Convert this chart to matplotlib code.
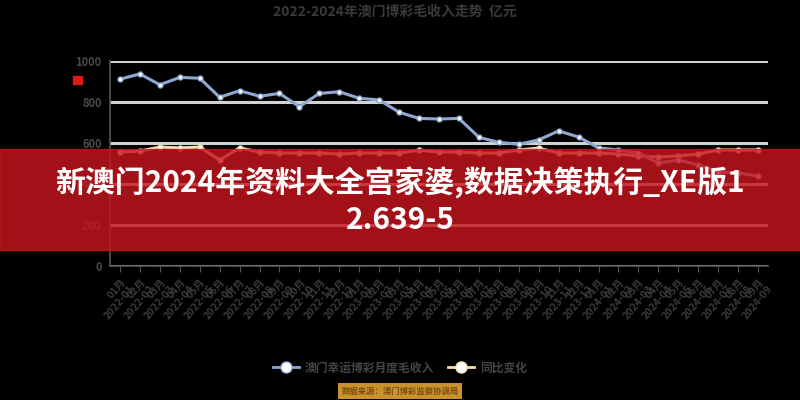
import matplotlib
matplotlib.use("Agg")
import matplotlib.pyplot as plt
from matplotlib.patches import Rectangle
from matplotlib.lines import Line2D

plt.rcParams['font.family'] = ['Noto Sans CJK SC', 'DejaVu Sans']

# data (values on a 0-1000 scale)
periods = [
    "2022-01", "2022-02", "2022-03", "2022-04", "2022-05", "2022-06", "2022-07",
    "2022-08", "2022-09", "2022-10", "2022-11", "2022-12", "2023-01", "2023-02",
    "2023-03", "2023-04", "2023-05", "2023-06", "2023-07", "2023-08", "2023-09",
    "2023-10", "2023-11", "2023-12", "2024-01", "2024-02", "2024-03", "2024-04",
    "2024-05", "2024-06", "2024-07", "2024-08", "2024-09",
]
period_tags = [p[-2:] + "月" for p in periods]
revenue = [911, 937, 884, 920, 916, 823, 855, 828, 842, 777, 842, 850, 818, 810,
           750, 720, 717, 720, 628, 603, 594, 615, 659, 629, 576, 566, 551, 502,
           517, 493, 459, 454, 439]
growth = [556, 561, 580, 576, 580, 517, 576, 556, 551, 551, 551, 546, 551, 551,
          551, 565, 556, 556, 551, 551, 566, 575, 551, 551, 551, 546, 537, 532,
          537, 546, 566, 566, 566]
y_ticks = [0, 200, 400, 600, 800, 1000]

title = "2022-2024年澳门博彩毛收入走势  亿元"
series_names = ["澳门幸运博彩月度毛收入", "同比变化"]
source_note = "数据来源：澳门博彩监察协调局"
banner = "新澳门2024年资料大全宫家婆,数据决策执行_XE版1\n2.639-5"

blue = "#8fa8d2"
cream = "#f2deb0"

fig = plt.figure(figsize=(8, 4), dpi=100, facecolor="black")
ax = fig.add_axes([0.1375, 0.335, 0.8225, 0.5125], facecolor="black")

x = list(range(len(periods)))
ax.plot(x, growth, color=cream, lw=2.2, marker="o", ms=3.5,
        mfc="white", mec=cream, zorder=3)
ax.plot(x, revenue, color=blue, lw=2.2, marker="o", ms=3.5,
        mfc="white", mec=blue, zorder=4)

ax.set_xlim(-0.5, len(periods) - 0.5)
ax.set_ylim(0, 1000)
ax.set_yticks(y_ticks)
ax.set_yticklabels([str(v) for v in y_ticks], color="#4a4a4a", fontsize=8,
                   fontweight="bold")
ax.yaxis.grid(True, color="#d2d2d2", lw=2.2)
ax.set_axisbelow(True)
ax.set_xticks(x)
ax.set_xticklabels([f"{t}\n{p}" for t, p in zip(period_tags, periods)],
                   rotation=50, ha="right", rotation_mode="anchor",
                   color="#3a3a3a", fontsize=7.5, fontweight="bold")
ax.tick_params(axis="x", colors="#555555", length=4, labelcolor="#3a3a3a")
ax.tick_params(axis="y", length=0, pad=6)
for side in ("top", "right"):
    ax.spines[side].set_visible(False)
for side in ("left", "bottom"):
    ax.spines[side].set_color("#555555")
    ax.spines[side].set_linewidth(1.2)

# small red mark at left of the axis
fig.add_artist(Rectangle((0.091, 0.79), 0.011, 0.02, transform=fig.transFigure,
                         color="#e01818"))

fig.text(0.494, 0.97, title, ha="center", va="center", color="#3a3a3a",
         fontsize=10, fontweight="bold")

handles = [
    Line2D([], [], color=blue, lw=2, marker="o", ms=8, mfc="white", mec=blue),
    Line2D([], [], color=cream, lw=2, marker="o", ms=8, mfc="white", mec=cream),
]
leg = fig.legend(handles, series_names, loc="center", bbox_to_anchor=(0.5, 0.08),
                 ncol=2, frameon=False, fontsize=8.5, handlelength=2.2,
                 columnspacing=1.2, handletextpad=0.5)
for t in leg.get_texts():
    t.set_color("#454545")
    t.set_fontweight("bold")

fig.text(0.5, 0.022, source_note, ha="center", va="center", color="#7a4e10",
         fontsize=6, fontweight="bold",
         bbox=dict(boxstyle="square,pad=0.4", fc="#c8922c", ec="none"))

# red banner overlay with caption
fig.add_artist(Rectangle((0, 0.375), 1, 0.2525, transform=fig.transFigure,
                         color="#c8161e", alpha=0.82, zorder=5))
fig.text(0.5, 0.497, banner, ha="center", va="center", color="white",
         fontsize=21.5, fontweight="bold", linespacing=1.25, zorder=6)

fig.savefig("out.png", dpi=100, facecolor="black")
